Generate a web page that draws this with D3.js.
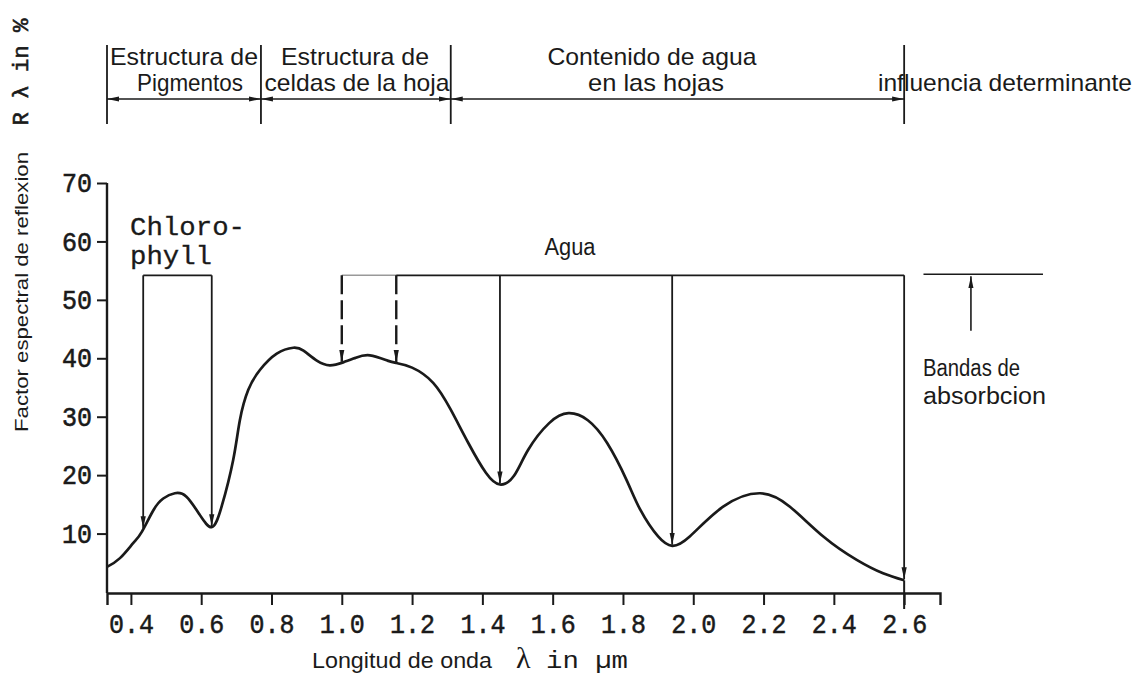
<!DOCTYPE html>
<html><head><meta charset="utf-8">
<script src="https://cdn.jsdelivr.net/npm/d3@7"></script>
<style>body{margin:0;background:#fff}svg{display:block}</style>
</head><body><svg id="c" width="1139" height="675"></svg>
<script>
// ---- data ----
const wavelength = [0.332,0.369,0.407,0.431,0.464,0.492,0.525,0.558,0.596,0.630,0.658,0.691,0.710,0.734,0.767,0.815,0.862,0.891,0.929,0.966,1.004,1.04,1.08,1.13,1.155,1.2,1.26,1.31,1.36,1.41,1.45,1.49,1.53,1.59,1.645,1.70,1.755,1.81,1.85,1.90,1.94,1.99,2.085,2.19,2.275,2.37,2.465,2.54,2.6];
const reflectance = [4.3,5.8,8.4,10.3,14.0,16.0,16.9,16.3,13.2,11.1,14.6,22.6,29.4,34.6,38.0,40.8,41.8,41.3,39.6,38.8,39.3,40.1,40.5,39.6,39.2,38.4,35.8,31.2,25.5,20.4,18.4,19.9,24.3,28.9,30.6,29.4,25.5,19.2,14.0,9.5,7.9,9.5,14.6,16.9,14.6,9.5,5.5,3.2,2.0];
const xTicks = [0.4,0.6,0.8,1.0,1.2,1.4,1.6,1.8,2.0,2.2,2.4,2.6];
const xTickLabels = ["0.4","0.6","0.8","1.0","1.2","1.4","1.6","1.8","2.0","2.2","2.4","2.6"];
const yTicks = [10,20,30,40,50,60,70];
const chlorophyllBands = [0.435, 0.63];
const waterBandsDashed = [1.0, 1.155];
const waterBandsSolid = [1.45, 1.94, 2.6];
const bandTop = 54.2;
const legendBand = [2.655, 2.995];
const legendArrow = [2.79, 44.7];
const headerBounds = [0.332, 0.77, 1.31, 2.6];
const headerLabels = [["Estructura de","Pigmentos"],["Estructura de","celdas de la hoja"],["Contenido de agua","en las hojas"]];
const headerLast = "influencia determinante";

// ---- scales ----
const svg = d3.select("#c");
const ink = "#1a1a1a";
const x = d3.scaleLinear().domain([0.332, 2.702]).range([107, 940]);
const y = d3.scaleLinear().domain([0, 70]).range([592, 183]);
const curveAt = d3.scaleLinear().domain(wavelength).range(reflectance);

const defs = svg.append("defs");
defs.append("marker").attr("id","ah").attr("viewBox","0 -4 12 8")
  .attr("refX",12).attr("refY",0).attr("markerWidth",12).attr("markerHeight",8)
  .attr("markerUnits","userSpaceOnUse").attr("orient","auto-start-reverse")
  .append("path").attr("d","M0,-2.6L12,0L0,2.6Z").attr("fill",ink);

const sans = "'Liberation Sans', Arial, sans-serif";
const mono = "'Liberation Mono', 'Courier New', monospace";

function txt(str, px, py, o) {
  o = o || {};
  const t = svg.append("text")
    .attr("x", px).attr("y", py)
    .attr("font-family", o.font || sans)
    .attr("font-size", o.size || 22)
    .attr("font-weight", o.weight || "normal")
    .attr("fill", ink)
    .attr("stroke", o.stroke ? ink : null).attr("stroke-width", o.stroke || null)
    .attr("text-anchor", o.anchor || "start")
    .text(str);
  if (o.len) t.attr("textLength", o.len).attr("lengthAdjust", "spacingAndGlyphs");
  if (o.rotate) t.attr("transform", `rotate(-90,${px},${py})`);
  return t;
}

// ---- axes ----
const gx = svg.append("g").attr("transform", `translate(0,${y(0)+1})`)
  .call(d3.axisBottom(x).tickValues(xTicks).tickFormat((d,i)=>xTickLabels[i]).tickSizeOuter(0).tickSize(12).tickPadding(5));
gx.select(".domain").attr("stroke", ink).attr("stroke-width", 2.4);
gx.selectAll(".tick line").attr("stroke", ink).attr("stroke-width", 2);
gx.selectAll(".tick text").attr("font-family", mono).attr("font-size", 27).attr("fill", ink)
  .attr("stroke", ink).attr("stroke-width", 0.5)
  .attr("textLength", 45).attr("lengthAdjust","spacingAndGlyphs").attr("dy","0.85em");

const gy = svg.append("g").attr("transform", `translate(${x(0.332)},0)`)
  .call(d3.axisLeft(y).tickValues(yTicks).tickSizeOuter(0).tickSize(10).tickPadding(5));
gy.select(".domain").attr("stroke", ink).attr("stroke-width", 2.4)
  .attr("d", `M0,${y(0)+1}V${y(70)}`);
gy.selectAll(".tick line").attr("stroke", ink).attr("stroke-width", 2);
gy.selectAll(".tick text").attr("font-family", mono).attr("font-size", 27).attr("fill", ink)
  .attr("stroke", ink).attr("stroke-width", 0.6)
  .attr("textLength", 30).attr("lengthAdjust","spacingAndGlyphs");

// ---- curve ----
svg.append("path")
  .datum(wavelength.map((w,i)=>[w, reflectance[i]]))
  .attr("fill","none").attr("stroke",ink).attr("stroke-width",2.7)
  .attr("d", d3.line().x(d=>x(d[0])).y(d=>y(d[1])).curve(d3.curveNatural));
// drop at 2.6 to axis
svg.append("line").attr("x1",x(2.6)).attr("x2",x(2.6))
  .attr("y1",y(curveAt(2.6))).attr("y2",y(0)+17)
  .attr("stroke",ink).attr("stroke-width",2);

// ---- chlorophyll bracket ----
function vArrow(w, dashed) {
  svg.append("line").attr("x1",x(w)).attr("x2",x(w))
    .attr("y1",y(bandTop)).attr("y2",y(curveAt(w)) - 1)
    .attr("stroke",ink).attr("stroke-width",dashed?2.4:1.8)
    .attr("stroke-dasharray", dashed ? "19,6" : null)
    .attr("marker-end","url(#ah)");
}
svg.append("line").attr("x1",x(chlorophyllBands[0])).attr("x2",x(chlorophyllBands[1]))
  .attr("y1",y(bandTop)).attr("y2",y(bandTop)).attr("stroke",ink).attr("stroke-width",1.8);
chlorophyllBands.forEach(w=>vArrow(w,false));
txt("Chloro-", 130, 235, {font: mono, size: 25, len: 115, stroke: 0.3});
txt("phyll", 130, 264, {font: mono, size: 25, len: 82, stroke: 0.3});

// ---- water bracket ----
svg.append("line").attr("x1",x(waterBandsDashed[0])).attr("x2",x(waterBandsDashed[1]))
  .attr("y1",y(bandTop)).attr("y2",y(bandTop)).attr("stroke","#999").attr("stroke-width",1.6);
svg.append("line").attr("x1",x(waterBandsDashed[1])).attr("x2",x(2.6))
  .attr("y1",y(bandTop)).attr("y2",y(bandTop)).attr("stroke",ink).attr("stroke-width",1.8);
waterBandsDashed.forEach(w=>vArrow(w,true));
waterBandsSolid.forEach(w=>vArrow(w,false));
txt("Agua", 570, 255, {anchor:"middle", size: 23, len: 51});

// ---- legend ----
svg.append("line").attr("x1",x(legendBand[0])).attr("x2",x(legendBand[1]))
  .attr("y1",y(bandTop)-1).attr("y2",y(bandTop)-1).attr("stroke",ink).attr("stroke-width",1.6);
svg.append("line").attr("x1",x(legendArrow[0])).attr("x2",x(legendArrow[0]))
  .attr("y1",y(legendArrow[1])).attr("y2",y(bandTop)+1)
  .attr("stroke",ink).attr("stroke-width",1.6).attr("marker-end","url(#ah)");
txt("Bandas de", 923, 376, {size: 23, len: 97});
txt("absorbcion", 923, 404, {size: 23, len: 123});

// ---- header ----
const hy = 99;
headerBounds.forEach(b=>{
  svg.append("line").attr("x1",x(b)).attr("x2",x(b)).attr("y1",45).attr("y2",124)
    .attr("stroke",ink).attr("stroke-width",1.8);
});
for (let i=0;i<headerBounds.length-1;i++){
  svg.append("line").attr("x1",x(headerBounds[i])).attr("x2",x(headerBounds[i+1]))
    .attr("y1",hy).attr("y2",hy).attr("stroke",ink).attr("stroke-width",1.6)
    .attr("marker-start","url(#ah)").attr("marker-end","url(#ah)");
}
const headerLens = [[148,106],[148,185],[209,136]];
const headerCx = [184, 355, 652];
const headerCx2 = [190, 357, 656];
headerLabels.forEach((l,i)=>{
  txt(l[0], headerCx[i], 65, {anchor:"middle", size: 24, len: headerLens[i][0]});
  txt(l[1], headerCx2[i], 91, {anchor:"middle", size: 24, len: headerLens[i][1]});
});
txt(headerLast, 878, 91, {size: 24, len: 254});

// ---- axis titles ----
txt("Factor espectral de reflexion", 28, 292, {anchor:"middle", size: 19, len: 280, rotate: true});
txt("R \u03BB in %", 28, 72, {anchor:"middle", size: 22, font: mono, len: 107, rotate: true, stroke: 0.6});
txt("Longitud de onda", 312, 668, {size: 22, len: 180});
txt("\u03BB", 516, 668, {font: "'Liberation Serif', serif", size: 30});
txt("in \u00B5m", 546, 668, {font: mono, size: 24, len: 82});
</script></body></html>
